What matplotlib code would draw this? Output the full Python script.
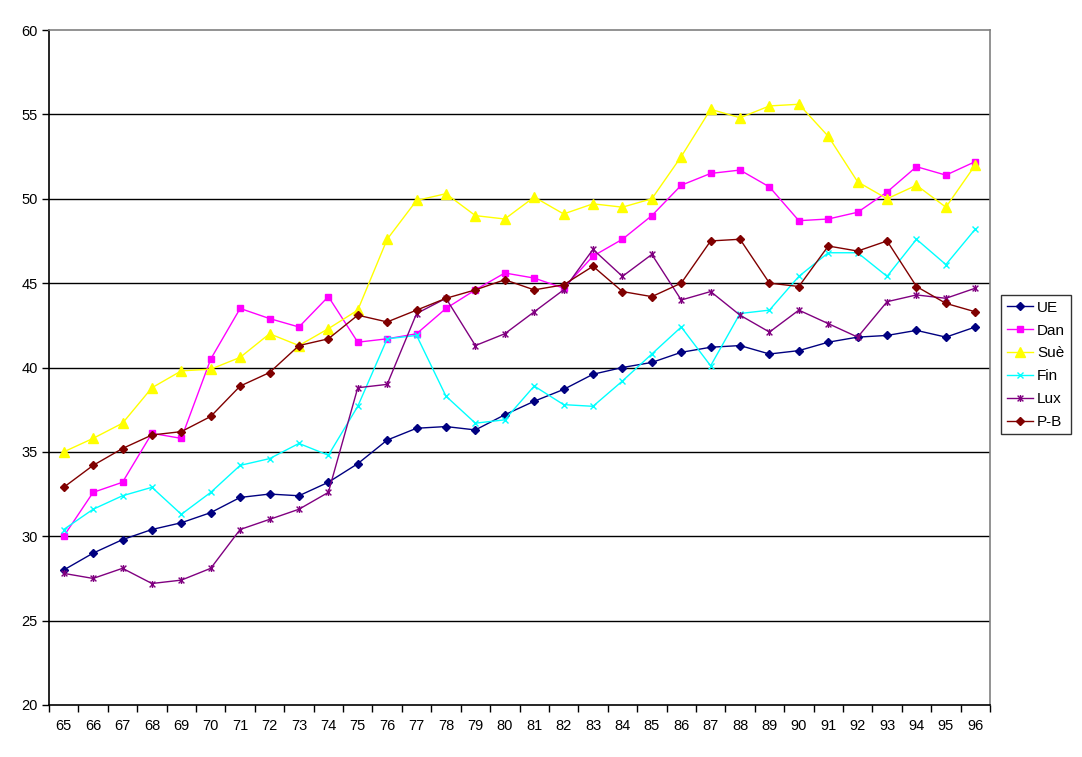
import numpy as np
import matplotlib.pyplot as plt
from matplotlib.path import Path

years = [str(y) for y in range(65, 97)]

ue = [28.0, 29.0, 29.8, 30.4, 30.8, 31.4, 32.3, 32.5, 32.4, 33.2, 34.3, 35.7, 36.4, 36.5, 36.3, 37.2,
      38.0, 38.7, 39.6, 40.0, 40.3, 40.9, 41.2, 41.3, 40.8, 41.0, 41.5, 41.8, 41.9, 42.2, 41.8, 42.4]
dan = [30.0, 32.6, 33.2, 36.1, 35.8, 40.5, 43.5, 42.9, 42.4, 44.2, 41.5, 41.7, 42.0, 43.5, 44.6, 45.6,
       45.3, 44.7, 46.6, 47.6, 49.0, 50.8, 51.5, 51.7, 50.7, 48.7, 48.8, 49.2, 50.4, 51.9, 51.4, 52.2]
sue = [35.0, 35.8, 36.7, 38.8, 39.8, 39.9, 40.6, 42.0, 41.3, 42.3, 43.4, 47.6, 49.9, 50.3, 49.0, 48.8,
       50.1, 49.1, 49.7, 49.5, 50.0, 52.5, 55.3, 54.8, 55.5, 55.6, 53.7, 51.0, 50.0, 50.8, 49.5, 52.0]
fin = [30.4, 31.6, 32.4, 32.9, 31.3, 32.6, 34.2, 34.6, 35.5, 34.8, 37.7, 41.7, 41.9, 38.3, 36.7, 36.9,
       38.9, 37.8, 37.7, 39.2, 40.8, 42.4, 40.1, 43.2, 43.4, 45.4, 46.8, 46.8, 45.4, 47.6, 46.1, 48.2]
lux = [27.8, 27.5, 28.1, 27.2, 27.4, 28.1, 30.4, 31.0, 31.6, 32.6, 38.8, 39.0, 43.2, 44.1, 41.3, 42.0,
       43.3, 44.6, 47.0, 45.4, 46.7, 44.0, 44.5, 43.1, 42.1, 43.4, 42.6, 41.8, 43.9, 44.3, 44.1, 44.7]
pb = [32.9, 34.2, 35.2, 36.0, 36.2, 37.1, 38.9, 39.7, 41.3, 41.7, 43.1, 42.7, 43.4, 44.1, 44.6, 45.2,
      44.6, 44.9, 46.0, 44.5, 44.2, 45.0, 47.5, 47.6, 45.0, 44.8, 47.2, 46.9, 47.5, 44.8, 43.8, 43.3]

# excel style star marker: x with a vertical bar
star = Path([(-1, -1), (1, 1), (-1, 1), (1, -1), (0, -1.2), (0, 1.2)],
            [Path.MOVETO, Path.LINETO, Path.MOVETO, Path.LINETO, Path.MOVETO, Path.LINETO])

series = [
    ("UE", ue, "#000080", "D", 4.5),
    ("Dan", dan, "#FF00FF", "s", 5),
    ("Suè", sue, "#FFFF00", "^", 6.5),
    ("Fin", fin, "#00FFFF", "x", 4.5),
    ("Lux", lux, "#800080", star, 5),
    ("P-B", pb, "#800000", "D", 4.5),
]

plt.rcParams['font.family'] = ['Liberation Sans', 'DejaVu Sans']

fig = plt.figure(figsize=(10.82, 7.57), dpi=100)
ax = fig.add_axes([49 / 1082, 1 - 705 / 757, 941 / 1082, 675 / 757])

x = np.arange(len(years))
for name, vals, col, mk, ms in series:
    ax.plot(x, vals, color=col, marker=mk, markersize=ms, linewidth=1.0,
            markeredgewidth=1.0, markerfacecolor=col, markeredgecolor=col, label=name)

ax.set_xlim(-0.5, len(years) - 0.5)
ax.set_ylim(20, 60)
ax.set_yticks(range(20, 61, 5))
ax.set_xticks(x)
ax.set_xticklabels(years)
ax.set_xticks(np.arange(-0.5, len(years), 1), minor=True)
ax.tick_params(axis='x', which='major', length=0, pad=10, labelsize=10.5)
ax.tick_params(axis='x', which='minor', length=5, direction='out', width=1)
ax.tick_params(axis='y', length=5, direction='out', width=1, labelsize=10.5, pad=3)

for v in range(25, 60, 5):
    ax.axhline(v, color='black', linewidth=1, zorder=0)

ax.spines['left'].set_color('black')
ax.spines['bottom'].set_color('black')
ax.spines['top'].set_color('#808080')
ax.spines['right'].set_color('#808080')
for s in ax.spines.values():
    s.set_linewidth(1.2)

leg = ax.legend(loc='center left', bbox_to_anchor=(1.012, 0.504), frameon=True, fancybox=False,
                edgecolor='black', fontsize=11, handlelength=1.7, labelspacing=0.58,
                borderpad=0.35, handletextpad=0.3, borderaxespad=0)
leg.get_frame().set_linewidth(1.0)

fig.savefig("out.png", dpi=100)
